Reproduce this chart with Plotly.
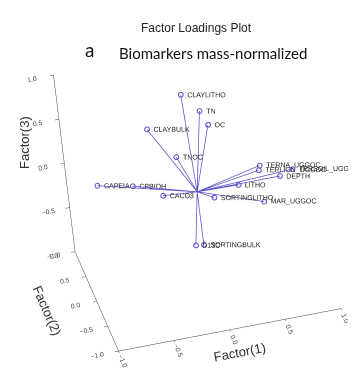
import plotly.graph_objects as go

names = ["CLAYLITHO", "TN", "OC", "CLAYBULK", "TNOC", "TERNA_UGGOC", "TERLIGN_UGGOC",
         "TERSOIL_UGGOC", "DEPTH", "LITHO", "SORTINGLITHO", "MAR_UGGOC", "D13C",
         "SORTINGBULK", "CAPEIA", "CPBIOH", "CACO3"]
f1 = [0.00, 0.12, 0.18, -0.32, -0.12, 0.59, 0.59, 0.86, 0.73, 0.37, 0.13, 0.55, -0.11,
      -0.04, -0.83, -0.52, -0.29]
f2 = [0.30, 0.10, 0.10, 0.40, 0.20, 0.10, 0.20, 0.00, -0.10, 0.00, -0.10, -0.20, -0.30,
      -0.30, 0.30, 0.30, 0.10]
f3 = [0.93, 0.83, 0.66, 0.56, 0.31, 0.10, -0.01, 0.05, 0.06, -0.01, -0.04, -0.13, -0.41,
      -0.42, 0.10, 0.02, -0.03]
ticks = [-1.0, -0.5, 0.0, 0.5, 1.0]

col = "#5a4fc8"
lx, ly, lz = [], [], []
for a, b, c in zip(f1, f2, f3):
    lx += [0, a, None]
    ly += [0, b, None]
    lz += [0, c, None]

fig = go.Figure()
fig.add_trace(go.Scatter3d(x=lx, y=ly, z=lz, mode="lines",
                           line=dict(color=col, width=1.5), hoverinfo="skip"))
fig.add_trace(go.Scatter3d(x=f1, y=f2, z=f3, mode="markers+text", text=names,
                           textposition="middle right",
                           textfont=dict(size=7, color="#222222", family="Liberation Sans"),
                           marker=dict(symbol="circle-open", size=3, color=col,
                                       line=dict(color=col, width=1))))

def ax(title):
    return dict(title=dict(text=title, font=dict(size=13, color="#333", family="Liberation Sans")),
                range=[-1, 1], tickvals=ticks, tickformat=".1f",
                tickfont=dict(size=9, color="#444", family="Liberation Sans"),
                showgrid=False, zeroline=False, showbackground=False,
                showline=True, linecolor="#444", linewidth=1,
                ticks="outside", ticklen=4, tickcolor="#444", showspikes=False)

zax = ax("")
zax["title"] = dict(text="")

d = 1.0
k = 1.22
sx = 0.06
su = -0.017
fig.update_layout(
    width=356, height=374, margin=dict(l=0, r=0, t=0, b=0),
    paper_bgcolor="white", showlegend=False,
    scene=dict(
        xaxis=ax("Factor(1)"), yaxis=ax("Factor(2)"), zaxis=zax,
        aspectmode="manual", aspectratio=dict(x=1.0 * k, y=0.97 * k, z=0.886 * k),
        camera=dict(eye=dict(x=-0.185 * d, y=-0.866 * d, z=0.465 * d),
                    up=dict(x=0.184, y=0.434, z=0.882),
                    center=dict(x=-0.9655 * sx + 0.184 * su,
                                y=0.2488 * sx + 0.434 * su,
                                z=0.0793 * sx + 0.882 * su),
                    projection=dict(type="orthographic")),
        domain=dict(x=[0, 1], y=[0, 1]),
    ),
    annotations=[
        dict(text="Factor Loadings Plot", xref="paper", yref="paper", x=0.53, y=1 - 20 / 374,
             yanchor="middle", showarrow=False,
             font=dict(size=12, color="#222", family="Liberation Sans")),
        dict(text="a", xref="paper", yref="paper", x=0.21, y=1 - 41 / 374, yanchor="middle",
             showarrow=False, font=dict(size=19, color="#111", family="Lato")),
        dict(text="Biomarkers mass-normalized", xref="paper", yref="paper", x=0.575,
             y=1 - 45 / 374, yanchor="middle", showarrow=False,
             font=dict(size=15, color="#111", family="Lato")),
        dict(text="Factor(3)", xref="paper", yref="paper", x=16 / 356, y=1 - 135 / 374,
             xanchor="center", yanchor="middle", textangle=-90, showarrow=False,
             font=dict(size=13, color="#333", family="Liberation Sans")),
    ],
)
fig.write_html("out.html")
